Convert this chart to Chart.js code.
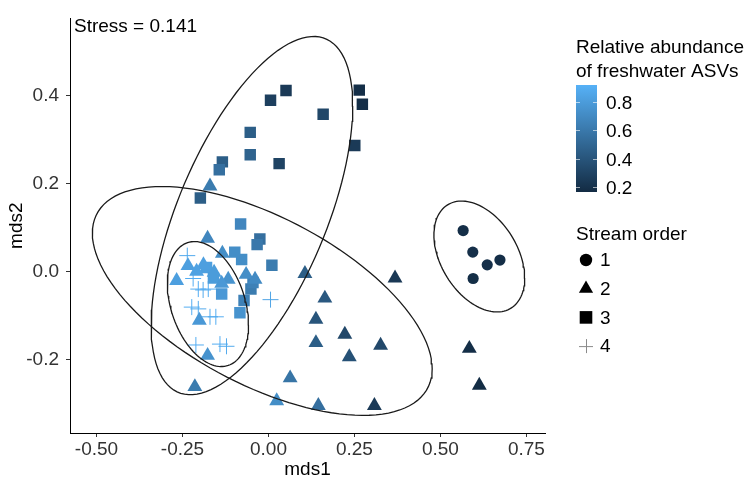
<!DOCTYPE html>
<html>
<head>
<meta charset="utf-8">
<title>NMDS stream order</title>
<script src="https://cdn.jsdelivr.net/npm/chart.js@4/dist/chart.umd.min.js"></script>
<style>
  html, body { margin: 0; padding: 0; background: #fff; }
  canvas { display: block; }
</style>
</head>
<body>
<canvas id="chart" width="748" height="487"></canvas>
<script>
// Data (NMDS scores)

// Stream order 1 (circles)
const order1X = [0.566, 0.594, 0.673, 0.636, 0.595];
const order1Y = [0.093, 0.044, 0.026, 0.015, -0.016];
const order1Abund = [0.18, 0.19, 0.18, 0.19, 0.18];

// Stream order 2 (triangles)
const order2X = [-0.170, -0.177, -0.134, -0.234, -0.189, -0.209, -0.158, -0.267, -0.117, -0.136, -0.065, -0.039, -0.201, -0.177, -0.214,
                 0.024, 0.063, 0.145, 0.308, 0.106, 0.368, 0.164, 0.138, 0.222, 0.326, 0.138, 0.235, 0.584, 0.613];
const order2Y = [0.194, 0.075, 0.041, 0.013, 0.015, 0.000, -0.002, -0.021, -0.018, -0.027, -0.007, -0.018, -0.111, -0.191, -0.262,
                 -0.294, -0.242, -0.305, -0.305, -0.005, -0.015, -0.061, -0.109, -0.143, -0.168, -0.162, -0.194, -0.175, -0.259];
const order2Abund = [0.62, 0.68, 0.72, 0.82, 0.82, 0.83, 0.80, 0.82, 0.75, 0.78, 0.72, 0.70, 0.78, 0.75, 0.62,
                     0.72, 0.58, 0.55, 0.25, 0.45, 0.24, 0.42, 0.40, 0.33, 0.33, 0.45, 0.38, 0.18, 0.17];

// Stream order 3 (squares)
const order3X = [0.051, 0.006, 0.264, 0.273, 0.159, -0.053, -0.053, 0.031, 0.251, -0.134, -0.143, -0.198, -0.081,
                 -0.025, -0.033, -0.098, -0.078, 0.010, -0.180, -0.160, -0.136, -0.051, -0.071, -0.083, -0.045];
const order3Y = [0.411, 0.389, 0.412, 0.380, 0.357, 0.316, 0.265, 0.245, 0.286, 0.249, 0.231, 0.167, 0.108,
                 0.074, 0.061, 0.044, 0.027, 0.014, 0.009, -0.015, -0.051, -0.040, -0.066, -0.094, -0.025];
const order3Abund = [0.25, 0.28, 0.18, 0.18, 0.32, 0.45, 0.48, 0.30, 0.25, 0.45, 0.55, 0.45, 0.68,
                     0.55, 0.60, 0.72, 0.72, 0.62, 0.82, 0.80, 0.78, 0.62, 0.65, 0.75, 0.65];

// Stream order 4 (plus signs)
const order4X = [-0.236, -0.219, -0.204, -0.190, -0.175, -0.223, -0.204, -0.153, -0.170, -0.211, -0.141, -0.122, 0.006];
const order4Y = [0.036, -0.016, -0.040, -0.042, -0.040, -0.081, -0.085, -0.103, -0.103, -0.167, -0.165, -0.170, -0.064];
const order4Abund = [0.88, 0.90, 0.90, 0.88, 0.90, 0.90, 0.88, 0.90, 0.88, 0.90, 0.90, 0.88, 0.85];

// Ellipses per stream order: centre, half-width, half-height, y offset of the rightmost point
const ellipseCx = [0.613, -0.018, -0.048, -0.176];
const ellipseCy = [0.034, -0.067, 0.127, -0.074];
const ellipseWx = [0.132, 0.494, 0.293, 0.118];
const ellipseWy = [0.126, 0.260, 0.407, 0.142];
const ellipseDy = [-0.049, -0.154, 0.249, -0.047];

// Axes and legend labels
const xTicks = [-0.5, -0.25, 0, 0.25, 0.5, 0.75];
const yTicks = [-0.2, 0, 0.2, 0.4];
const abundTicks = [0.2, 0.4, 0.6, 0.8];
const streamOrders = ['1', '2', '3', '4'];
const colourTitle = ['Relative abundance', 'of freshwater ASVs'];
const shapeTitle = 'Stream order';
const stressLabel = 'Stress = 0.141';

// Styling
const FONT_FAMILY = "'Liberation Sans', Arial, sans-serif";
const FONT_SIZE = 19;
const ABUND_MIN = 0.165;
const ABUND_MAX = 0.92;
const LOW_RGB = [19, 43, 67];     // #132B43
const HIGH_RGB = [86, 177, 247];  // #56B1F7

function abundColor(v) {
  // Maps an abundance value onto the default ggplot blue gradient.
  const t = Math.min(1, Math.max(0, (v - ABUND_MIN) / (ABUND_MAX - ABUND_MIN)));
  const c = LOW_RGB.map((lo, i) => Math.round(lo + (HIGH_RGB[i] - lo) * t));
  return `rgb(${c[0]}, ${c[1]}, ${c[2]})`;
}

function toPoints(xs, ys) {
  return xs.map((x, i) => ({ x: x, y: ys[i] }));
}

function ellipsePath(i) {
  // Outline of ellipse i in data units.
  const pts = [];
  const e = Math.sqrt(ellipseWy[i] ** 2 - ellipseDy[i] ** 2);
  for (let k = 0; k <= 120; k++) {
    const t = (k / 120) * Math.PI * 2;
    pts.push({
      x: ellipseCx[i] + ellipseWx[i] * Math.cos(t),
      y: ellipseCy[i] + ellipseDy[i] * Math.cos(t) + e * Math.sin(t),
    });
  }
  return pts;
}

const ellipseSets = [0, 1, 2, 3].map((i) => ({
  data: ellipsePath(i),
  showLine: true,
  borderColor: '#1a1a1a',
  borderWidth: 1.3,
  pointRadius: 0,
  fill: false,
  tension: 0,
}));

const pointSets = [
  { data: toPoints(order1X, order1Y), pointStyle: 'circle', pointRadius: 5.6,
    pointBackgroundColor: order1Abund.map(abundColor), pointBorderWidth: 0 },
  { data: toPoints(order2X, order2Y), pointStyle: 'triangle', pointRadius: 8.6,
    pointBackgroundColor: order2Abund.map(abundColor), pointBorderWidth: 0 },
  { data: toPoints(order3X, order3Y), pointStyle: 'rect', pointRadius: 8.1,
    pointBackgroundColor: order3Abund.map(abundColor), pointBorderWidth: 0 },
  { data: toPoints(order4X, order4Y), pointStyle: 'cross', pointRadius: 8,
    pointBorderColor: order4Abund.map(abundColor), pointBorderWidth: 1 },
];

/* Legend, colour bar and stress annotation, drawn ggplot style */
const ggLegend = {
  id: 'ggLegend',
  afterDraw(chart) {
    const ctx = chart.ctx;
    ctx.save();
    ctx.font = `${FONT_SIZE}px ${FONT_FAMILY}`;
    ctx.fillStyle = '#000';
    ctx.textAlign = 'left';
    ctx.textBaseline = 'alphabetic';

    ctx.fillText(stressLabel, 74, 32);

    // Colour bar
    ctx.fillText(colourTitle[0], 576, 53);
    ctx.fillText(colourTitle[1], 576, 77);
    const barX = 576, barTop = 85, barW = 21, barH = 107;
    const grad = ctx.createLinearGradient(0, barTop, 0, barTop + barH);
    grad.addColorStop(0, abundColor(ABUND_MAX));
    grad.addColorStop(1, abundColor(ABUND_MIN));
    ctx.fillStyle = grad;
    ctx.fillRect(barX, barTop, barW, barH);

    ctx.textBaseline = 'middle';
    abundTicks.forEach((v) => {
      const y = Math.round(barTop + barH - (v - ABUND_MIN) / (ABUND_MAX - ABUND_MIN) * barH) + 0.5;
      ctx.strokeStyle = 'rgba(255,255,255,0.6)';
      ctx.lineWidth = 1;
      ctx.beginPath();
      ctx.moveTo(barX, y); ctx.lineTo(barX + 4, y);
      ctx.moveTo(barX + barW - 4, y); ctx.lineTo(barX + barW, y);
      ctx.stroke();
      ctx.fillStyle = '#000';
      ctx.fillText(v.toFixed(1), 606, y + 1);
    });

    // Shape legend
    ctx.textBaseline = 'alphabetic';
    ctx.fillText(shapeTitle, 576, 240);
    ctx.textBaseline = 'middle';
    streamOrders.forEach((label, i) => {
      const cx = 586, cy = 260 + i * 28.7;
      ctx.fillStyle = '#000';
      ctx.beginPath();
      if (i === 0) {
        ctx.arc(cx, cy, 6.2, 0, Math.PI * 2);
        ctx.fill();
      } else if (i === 1) {
        ctx.moveTo(cx, cy - 8.2);
        ctx.lineTo(cx + 7.1, cy + 4.1);
        ctx.lineTo(cx - 7.1, cy + 4.1);
        ctx.closePath();
        ctx.fill();
      } else if (i === 2) {
        ctx.fillRect(cx - 6.3, cy - 6.3, 12.6, 12.6);
      } else {
        ctx.strokeStyle = '#8a8a8a';
        ctx.lineWidth = 1;
        ctx.moveTo(cx - 7, cy + 0.5); ctx.lineTo(cx + 7, cy + 0.5);
        ctx.moveTo(cx + 0.5, cy - 7); ctx.lineTo(cx + 0.5, cy + 7);
        ctx.stroke();
      }
      ctx.fillStyle = '#000';
      ctx.fillText(label, 600, cy + 1);
    });
    ctx.restore();
  },
};

Chart.defaults.font.family = FONT_FAMILY;
Chart.defaults.font.size = FONT_SIZE;

const axisGrid = { drawOnChartArea: false, drawTicks: true, tickLength: 4, color: '#333', lineWidth: 1 };
const axisBorder = { display: true, color: '#000', width: 1 };

new Chart(document.getElementById('chart'), {
  type: 'scatter',
  data: { datasets: [...ellipseSets, ...pointSets] },
  options: {
    responsive: false,
    animation: false,
    devicePixelRatio: 1,
    layout: { padding: { left: 0, top: 12, right: 203, bottom: 0 } },
    scales: {
      x: {
        type: 'linear',
        min: -0.577,
        max: 0.804,
        afterBuildTicks: (scale) => { scale.ticks = xTicks.map((v) => ({ value: v })); },
        afterFit: (scale) => { scale.height = 54; },
        ticks: { color: '#333', padding: 1, maxRotation: 0, callback: (v) => v.toFixed(2) },
        grid: axisGrid,
        border: axisBorder,
        title: { display: true, text: 'mds1', color: '#000', padding: { top: 0, bottom: 6 } },
      },
      y: {
        type: 'linear',
        min: -0.367,
        max: 0.575,
        afterBuildTicks: (scale) => { scale.ticks = yTicks.map((v) => ({ value: v })); },
        afterFit: (scale) => { scale.width = 70; },
        ticks: { color: '#333', padding: 7, callback: (v) => v.toFixed(1) },
        grid: axisGrid,
        border: axisBorder,
        title: { display: true, text: 'mds2', color: '#000', padding: { top: 5, bottom: 0 } },
      },
    },
    plugins: {
      legend: { display: false },
      tooltip: { enabled: false },
    },
  },
  plugins: [ggLegend],
});
</script>
</body>
</html>
